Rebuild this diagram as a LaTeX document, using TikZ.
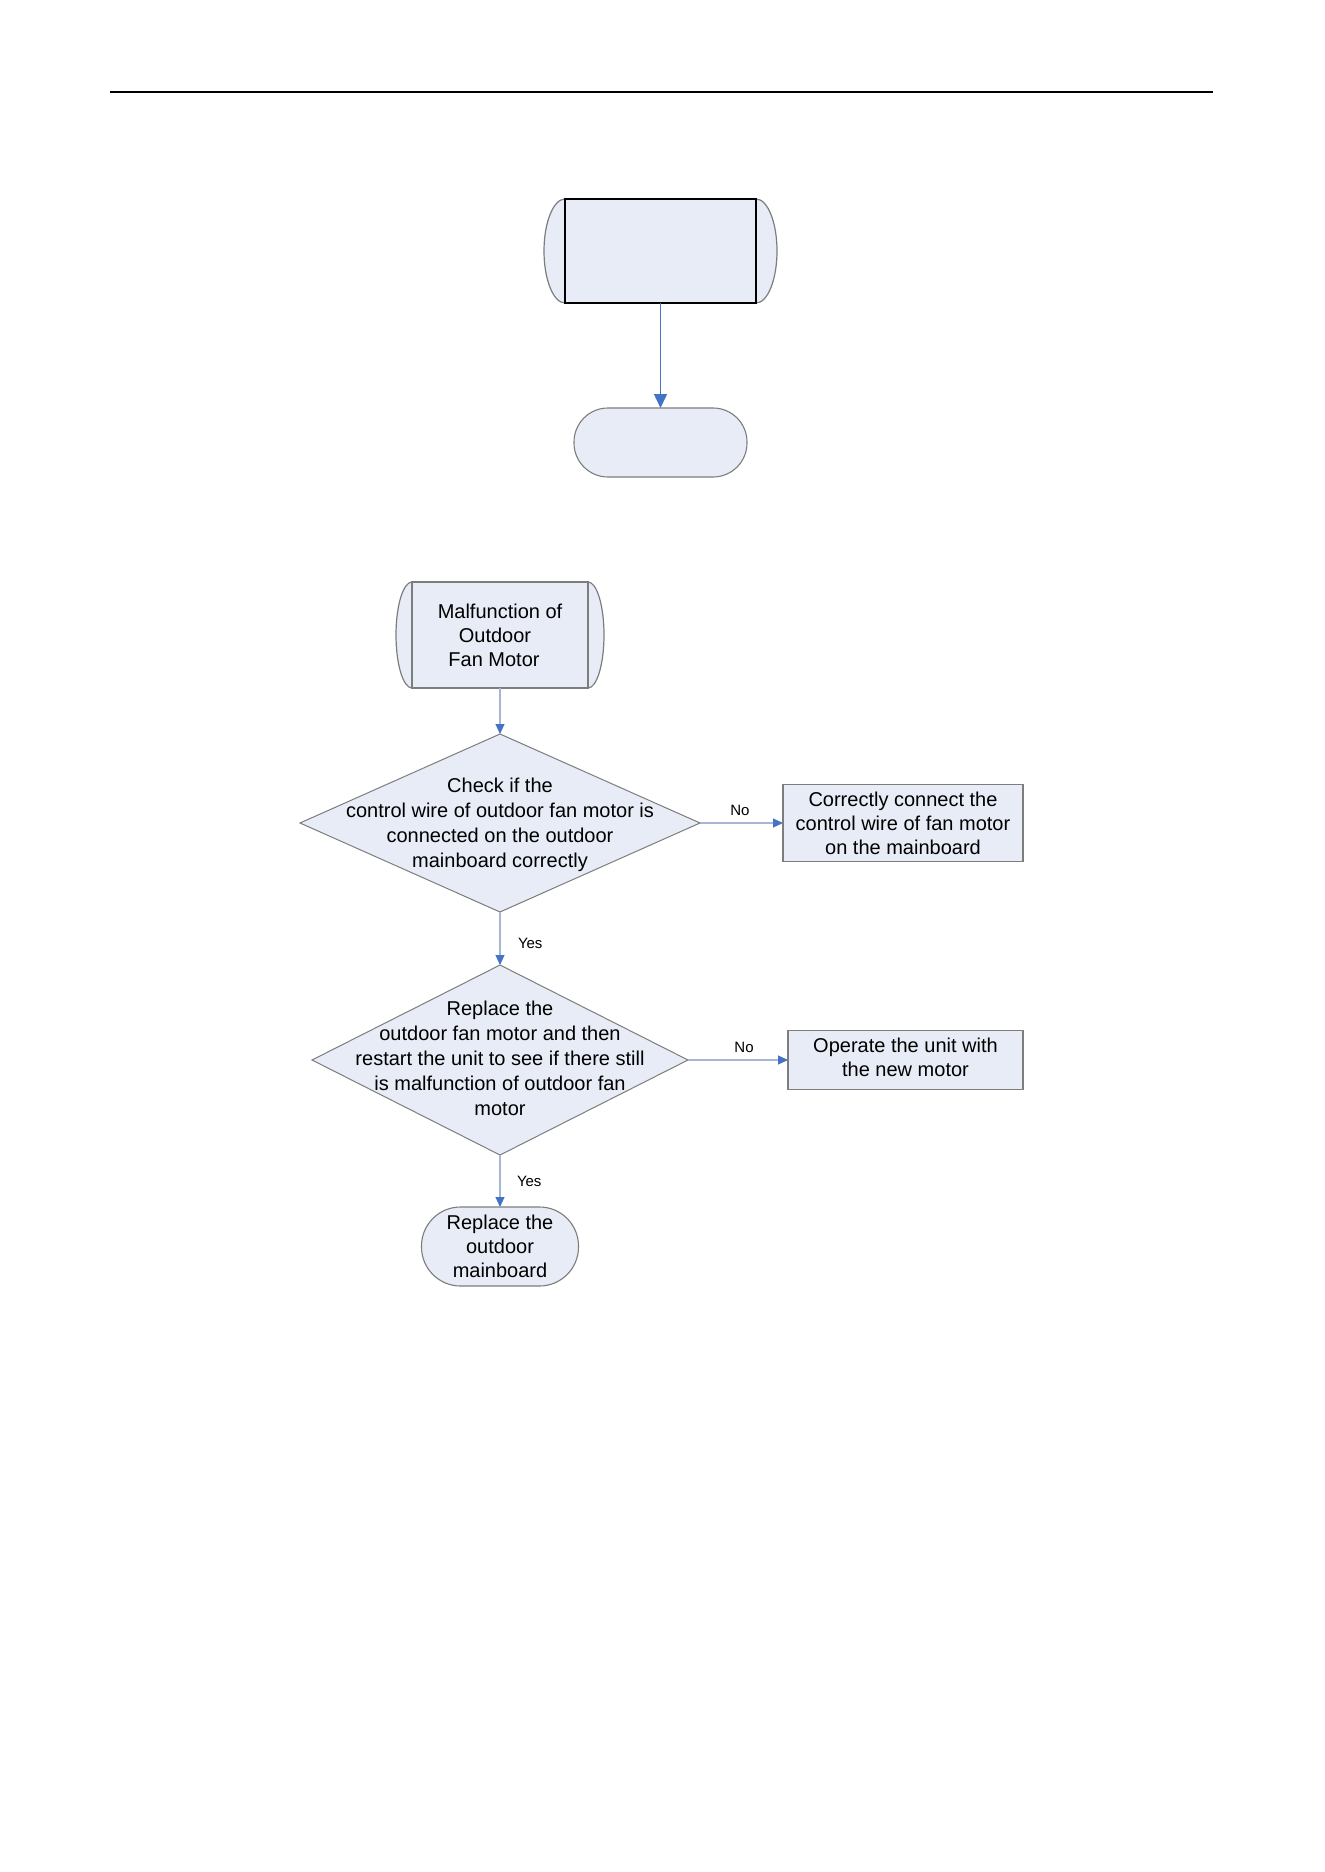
\documentclass[tikz,border=0pt]{standalone}
\usepackage{fontspec}
\setmainfont{Liberation Sans}
\usetikzlibrary{shapes.geometric,arrows.meta,backgrounds}
\definecolor{boxfill}{RGB}{231,236,246}
\definecolor{edgegrey}{RGB}{125,125,125}
\definecolor{linkblue}{RGB}{68,114,196}
\definecolor{thinblue}{RGB}{165,182,215}
\newcommand{\mltext}[2]{\smash{\makebox[0pt]{\raisebox{#1}{\fontsize{10pt}{12.5pt}\selectfont\begin{tabular}{@{}c@{}}#2\end{tabular}}}}}
\begin{document}
\begin{tikzpicture}[x=0.5pt,y=-0.5pt,
  font=\fontsize{10pt}{12pt}\selectfont,
  every node/.style={inner sep=0pt, outer sep=0pt},
  procbox/.style={rectangle, draw=black, line width=0.7pt, fill=boxfill},
  startbox/.style={rectangle, draw=edgegrey, line width=0.55pt, fill=boxfill, align=center},
  stadium/.style={rectangle, draw=edgegrey, line width=0.55pt, fill=boxfill, align=center},
  actbox/.style={rectangle, draw=edgegrey, line width=0.55pt, fill=boxfill, align=center},
  decision/.style={diamond, draw=edgegrey, line width=0.5pt, fill=boxfill},
  bulge/.style={draw=edgegrey, line width=0.6pt},
  bigarrow/.style={draw=linkblue, line width=0.75pt, -{Triangle[width=6.5pt,length=7pt,color=linkblue]}},
  conn/.style={draw=thinblue, line width=0.55pt, -{Triangle[width=4.5pt,length=5pt,color=linkblue]}},
  lbl/.style={font=\fontsize{7.5pt}{9pt}\selectfont}]
\useasboundingbox (0,0) rectangle (1324,1872);

% header rule
\draw[line width=0.75pt] (110,92) -- (1213,92);

% top legend shapes
\node[procbox, minimum width=95.5pt, minimum height=52pt] (top) at (660.5,251) {};
\node[stadium, rounded corners=17pt, minimum width=86.5pt, minimum height=34.5pt] (t2) at (660.5,442.5) {};

% flowchart
\node[startbox, minimum width=88pt, minimum height=53pt] (start) at (500,635)
  {Malfunction of\\\hspace*{-5pt}Outdoor\\\hspace*{-6pt}Fan Motor};
\node[decision, minimum width=200pt, minimum height=89pt] (d1) at (500,823)
  {\mltext{-3.5pt}{Check if the\\control wire of outdoor fan motor is\\connected on the outdoor\\mainboard correctly}};
\node[actbox, minimum width=120pt, minimum height=38.5pt] (b1) at (903,823)
  {Correctly connect the\\control wire of fan motor\\on the mainboard};
\node[decision, minimum width=188pt, minimum height=95pt] (d2) at (500,1060)
  {\mltext{-2.5pt}{Replace the\\outdoor fan motor and then\\restart the unit to see if there still\\is malfunction of outdoor fan\\motor}};
\node[actbox, minimum width=117.5pt, minimum height=29.5pt] (b2) at (905.5,1060)
  {\raisebox{1pt}{\begin{tabular}{@{}c@{}}Operate the unit with\\the new motor\end{tabular}}};
\node[stadium, rounded corners=19.5pt, minimum width=78.5pt, minimum height=39.5pt] (t3) at (500,1246.5)
  {Replace the\\outdoor\\mainboard};

% background and bulging sides (behind the boxes)
\begin{pgfonlayer}{background}
  \fill[white] (0,0) rectangle (1324,1872);
  \fill[boxfill] (top.north west) arc[start angle=90,end angle=270,x radius=10.5pt,y radius=26pt] -- cycle;
  \draw[bulge] (top.north west) arc[start angle=90,end angle=270,x radius=10.5pt,y radius=26pt];
  \fill[boxfill] (top.south east) arc[start angle=-90,end angle=90,x radius=10.5pt,y radius=26pt] -- cycle;
  \draw[bulge] (top.south east) arc[start angle=-90,end angle=90,x radius=10.5pt,y radius=26pt];
  \fill[boxfill] (start.north west) arc[start angle=90,end angle=270,x radius=8pt,y radius=26.5pt] -- cycle;
  \draw[bulge] (start.north west) arc[start angle=90,end angle=270,x radius=8pt,y radius=26.5pt];
  \fill[boxfill] (start.south east) arc[start angle=-90,end angle=90,x radius=8pt,y radius=26.5pt] -- cycle;
  \draw[bulge] (start.south east) arc[start angle=-90,end angle=90,x radius=8pt,y radius=26.5pt];
\end{pgfonlayer}

% connectors
\draw[bigarrow] (top.south) -- (t2.north);
\draw[conn] (start.south) -- (d1.north);
\draw[conn] (d1.east) -- node[lbl, pos=0.48, above=3.5pt] {No} (b1.west);
\draw[conn] (d1.south) -- node[lbl, pos=0.6, right=9pt] {Yes} (d2.north);
\draw[conn] (d2.east) -- node[lbl, pos=0.56, above=3.5pt] {No} (b2.west);
\draw[conn] (d2.south) -- node[lbl, pos=0.5, right=8.5pt] {Yes} (t3.north);
\end{tikzpicture}
\end{document}
